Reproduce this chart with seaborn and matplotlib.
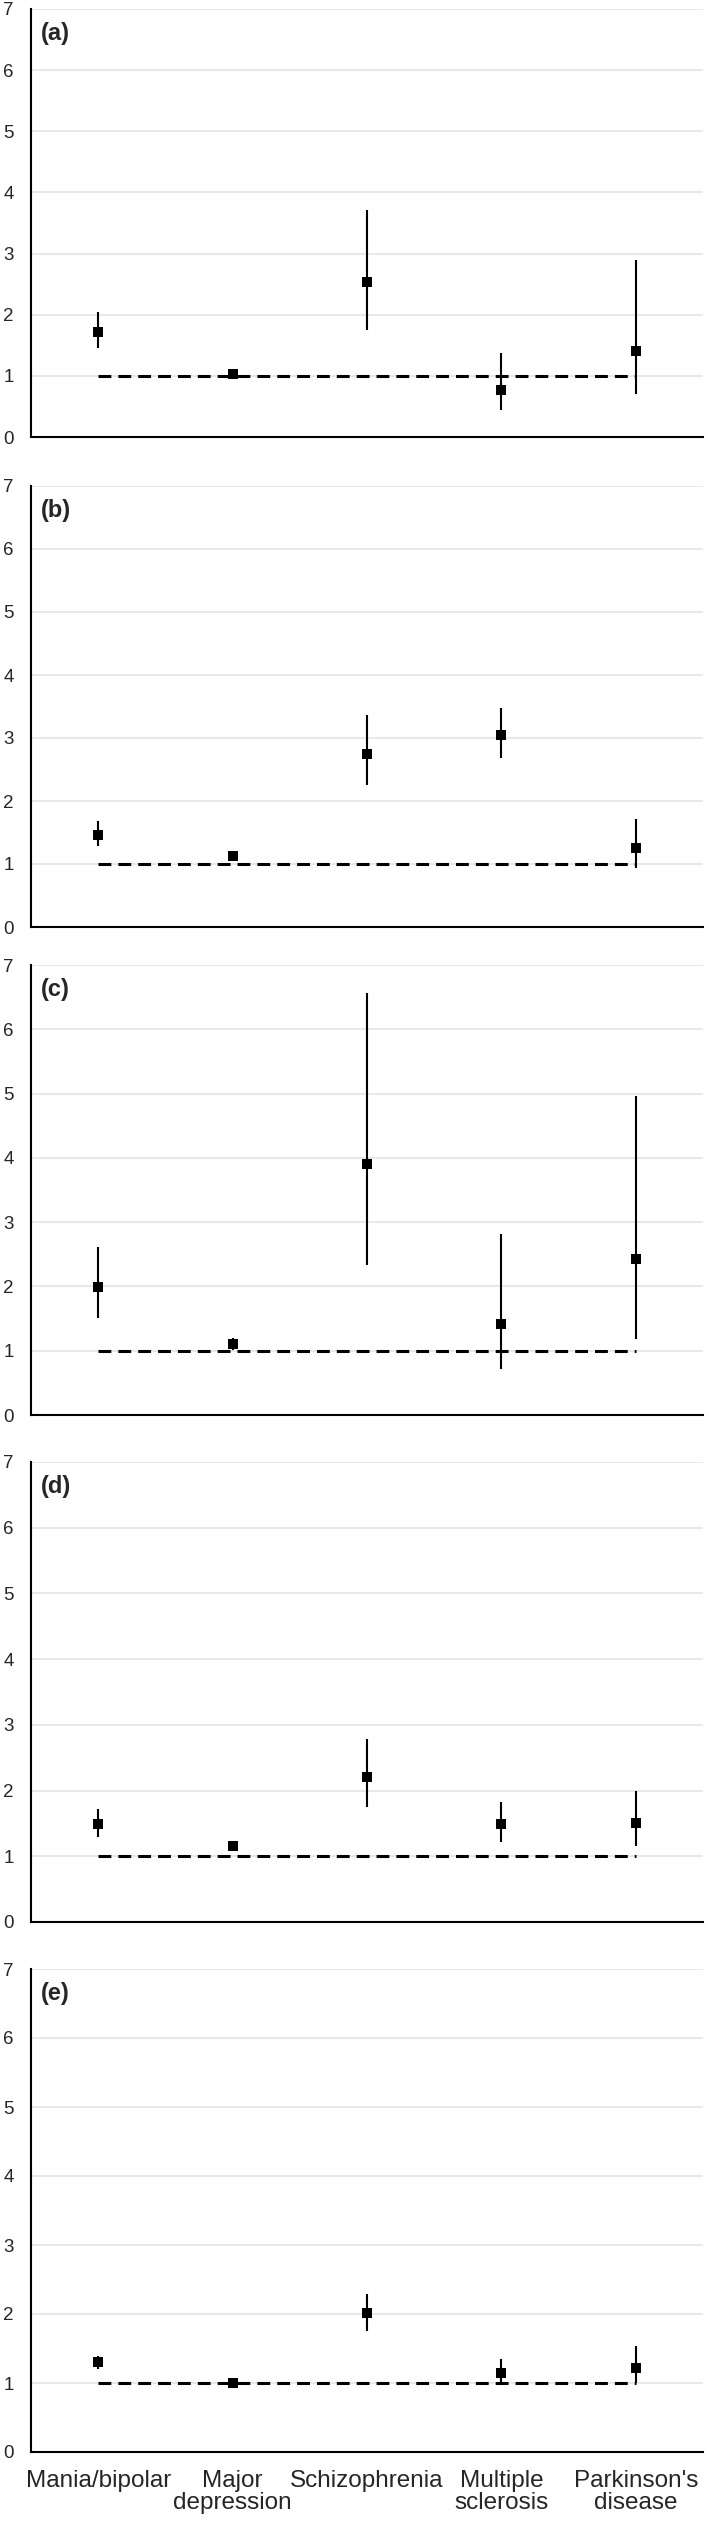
import numpy as np
import pandas as pd
import seaborn as sns
import matplotlib
matplotlib.use('Agg')
import matplotlib.pyplot as plt

# 数据
categories = ['Mania/bipolar', 'Major\ndepression', 'Schizophrenia',
              'Multiple\nsclerosis', "Parkinson's\ndisease"]
panel_labels = ['(a)', '(b)', '(c)', '(d)', '(e)']

est_a = [1.72, 1.03, 2.54, 0.77, 1.41]
low_a = [1.45, 0.98, 1.75, 0.44, 0.70]
high_a = [2.05, 1.08, 3.71, 1.37, 2.89]

est_b = [1.46, 1.12, 2.74, 3.05, 1.26]
low_b = [1.28, 1.06, 2.25, 2.68, 0.93]
high_b = [1.68, 1.18, 3.37, 3.48, 1.71]

est_c = [1.99, 1.10, 3.91, 1.41, 2.43]
low_c = [1.51, 1.01, 2.34, 0.72, 1.19]
high_c = [2.61, 1.20, 6.57, 2.82, 4.97]

est_d = [1.49, 1.16, 2.21, 1.49, 1.51]
low_d = [1.29, 1.10, 1.75, 1.22, 1.16]
high_d = [1.72, 1.22, 2.79, 1.83, 1.99]

est_e = [1.30, 1.00, 2.01, 1.15, 1.22]
low_e = [1.21, 0.96, 1.76, 1.01, 1.00]
high_e = [1.39, 1.04, 2.29, 1.35, 1.54]

reference = 1.0

panels = [(est_a, low_a, high_a), (est_b, low_b, high_b), (est_c, low_c, high_c),
          (est_d, low_d, high_d), (est_e, low_e, high_e)]

# 画布
sns.set_style('white')
plt.rcParams['font.family'] = ['Liberation Sans', 'DejaVu Sans']

W, H = 709, 2525
fig = plt.figure(figsize=(W / 100, H / 100), dpi=100)

# 每个面板的上/下边界（像素）
boxes = [(9, 437), (486, 927), (965, 1415), (1462, 1922), (1969, 2452)]
left_px, right_px = 31, 703

for i, ((est, lo, hi), (top, bot)) in enumerate(zip(panels, boxes)):
    ax = fig.add_axes([left_px / W, 1 - bot / H, (right_px - left_px) / W, (bot - top) / H])
    df = pd.DataFrame({'pos': np.arange(len(categories)), 'est': est, 'lo': lo, 'hi': hi})

    for y in range(1, 8):
        ax.axhline(y, color='#e6e6e6', lw=1.3, zorder=0)

    ax.plot([df['pos'].iloc[0], df['pos'].iloc[-1]], [reference, reference],
            color='black', lw=2.2, dashes=(4.2, 2.3), zorder=2)
    ax.vlines(df['pos'], df['lo'], df['hi'], color='black', lw=1.5, zorder=3)
    sns.scatterplot(data=df, x='pos', y='est', marker='s', s=62, color='black',
                    edgecolor='black', linewidth=0, ax=ax, zorder=4)

    ax.set_xlim(-0.5, 4.5)
    ax.set_ylim(0, 7)
    ax.set_yticks(range(0, 8))
    ax.set_xticks(np.arange(-0.5, 5, 1))
    ax.set_xticklabels([])
    ax.set_xticks(np.arange(5), minor=True)
    if i == 4:
        ax.set_xticklabels(categories, minor=True, fontsize=17.5, linespacing=1.0)
    ax.tick_params(axis='x', which='minor', length=0, pad=13)
    ax.tick_params(axis='x', which='major', direction='out', length=4, width=1.5, color='black')
    ax.tick_params(axis='y', direction='out', length=4, width=1.5, color='black',
                   labelsize=13.5, pad=8.5)
    ax.set_xlabel('')
    ax.set_ylabel('')
    sns.despine(ax=ax)
    for s in ['left', 'bottom']:
        ax.spines[s].set_color('black')
        ax.spines[s].set_linewidth(1.5)
    ax.text(10 / (right_px - left_px), 1 - 13 / (bot - top), panel_labels[i],
            transform=ax.transAxes, fontsize=17, fontweight='bold', va='top', ha='left')

fig.savefig('out.png', dpi=100)
